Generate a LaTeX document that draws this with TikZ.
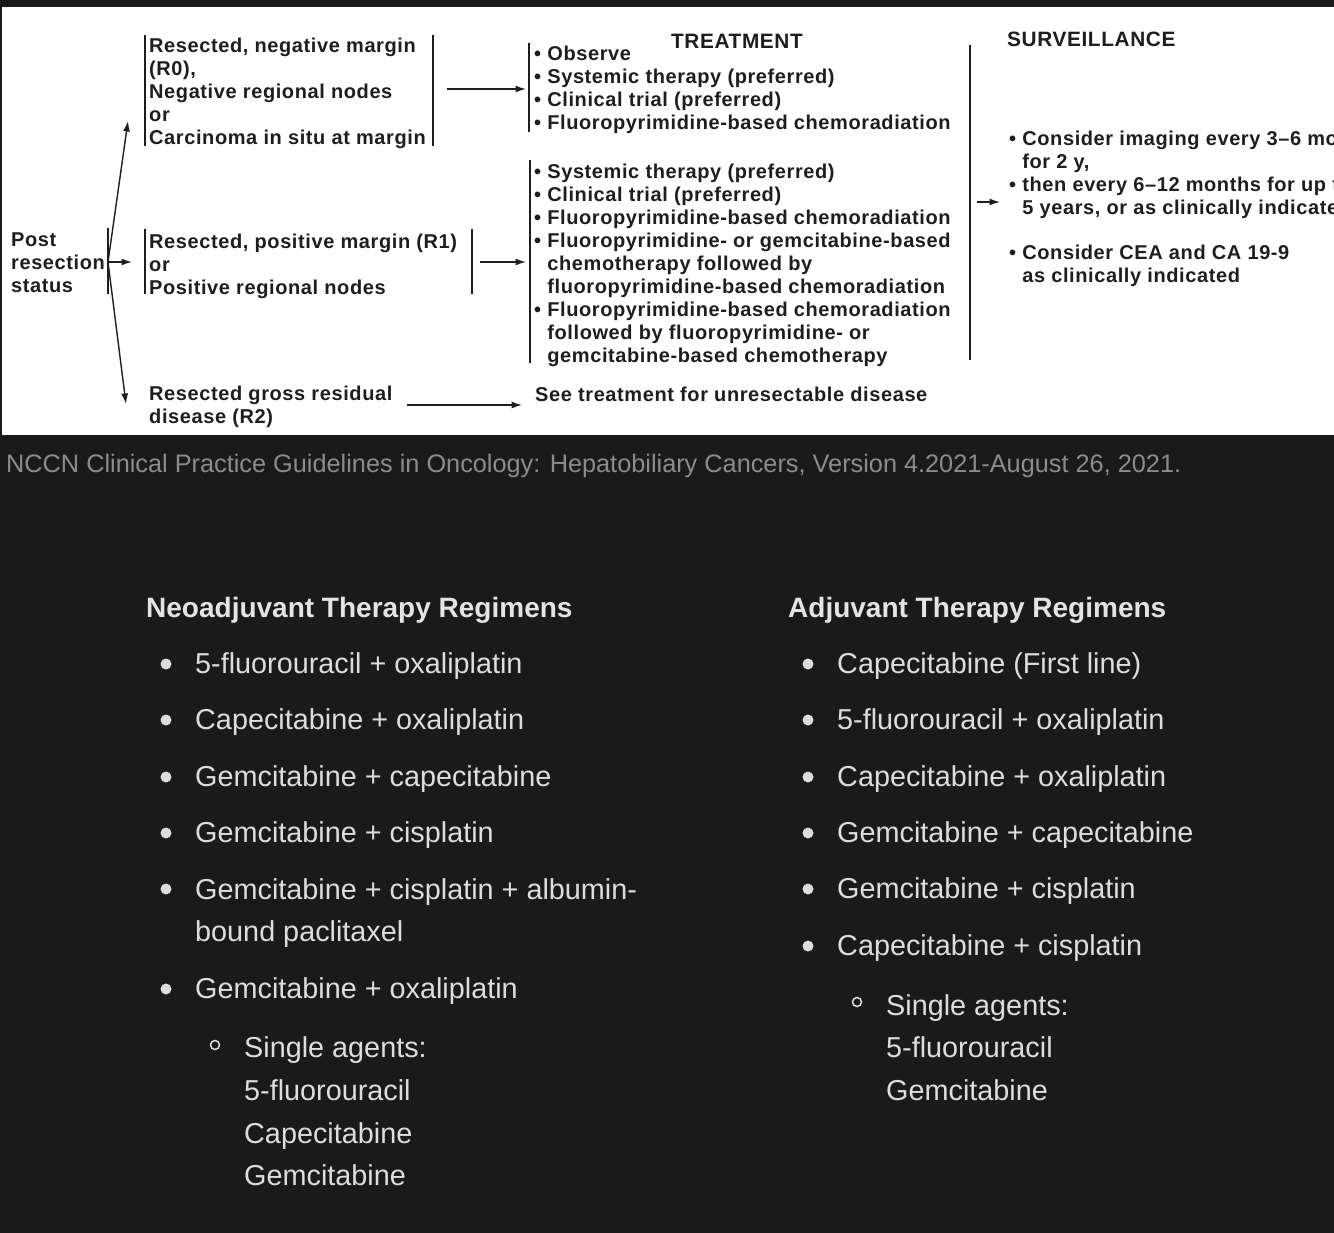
\documentclass[tikz,border=0pt]{standalone}
\usepackage{fontspec}
\setmainfont{Liberation Sans}
\newfontfamily\topfont[LetterSpace=3.0]{Liberation Sans}
\usetikzlibrary{arrows.meta}
\definecolor{bg}{HTML}{1A1A1A}
\definecolor{ink}{HTML}{1E1E1E}
\definecolor{lite}{HTML}{DDDDDD}
\definecolor{head}{HTML}{E4E4E4}
\definecolor{capt}{HTML}{8C8C8C}
\begin{document}
\begin{tikzpicture}[x=1pt,y=-1pt,
  tt/.style={font=\topfont\bfseries\fontsize{20}{23}\selectfont, text=ink, inner sep=0pt, align=left, anchor=west},
  tth/.style={font=\topfont\bfseries\fontsize{20.8}{23}\selectfont, text=ink, inner sep=0pt},
  bar/.style={draw=ink, line width=1.6pt},
  arr/.style={draw=ink, line width=1.4pt, -{Latex[length=10.5pt,width=7pt]}},
  body/.style={font=\fontsize{28.8}{42.7}\selectfont, text=lite, inner sep=0pt, align=left, anchor=west},
  hd/.style={font=\bfseries\fontsize{28}{34}\selectfont, text=head, inner sep=0pt, anchor=west},
  dot/.style={fill=lite},
  ring/.style={draw=lite, line width=1.5pt},
]
\useasboundingbox (0,0) rectangle (1334,1233);
\fill[bg] (0,0) rectangle (1334,1233);
\fill[white] (2,7) rectangle (1334,435);
\begin{scope}
\clip (2,7) rectangle (1334,435);
% left column
\node[tt] (post) at (11,262.5) {Post\\resection\\status};
\node[tt] (r0) at (149,93) {Resected, negative margin\\(R0),\\Negative regional nodes\\or\\Carcinoma in situ at margin};
\node[tt] (r1) at (149,266) {Resected, positive margin (R1)\\or\\Positive regional nodes};
\node[tt] (r2) at (149,406.5) {Resected gross residual\\disease (R2)};
% treatment
\node[tth, anchor=center] (treat) at (737,41) {TREATMENT};
\node[tt] (tx1) at (534,90) {• Observe\\• Systemic therapy (preferred)\\• Clinical trial (preferred)\\• Fluoropyrimidine-based chemoradiation};
\node[tt] (tx2) at (534,265.5) {• Systemic therapy (preferred)\\
• Clinical trial (preferred)\\
• Fluoropyrimidine-based chemoradiation\\
• Fluoropyrimidine- or gemcitabine-based\\
\hphantom{• }chemotherapy followed by\\
\hphantom{• }fluoropyrimidine-based chemoradiation\\
• Fluoropyrimidine-based chemoradiation\\
\hphantom{• }followed by fluoropyrimidine- or\\
\hphantom{• }gemcitabine-based chemotherapy};
\node[tt] (tx3) at (535,394) {See treatment for unresectable disease};
% surveillance
\node[tth, anchor=west] (surv) at (1007,39) {SURVEILLANCE};
\node[tt] (sv1) at (1009,175) {• Consider imaging every 3–6 months\\\hphantom{• }for 2 y,\\• then every 6–12 months for up to\\\hphantom{• }5 years, or as clinically indicated};
\node[tt] (sv2) at (1009,266) {• Consider CEA and CA 19-9\\\hphantom{• }as clinically indicated};
% bars
\coordinate (pb) at (108,262);
\draw[bar] (108,228) -- (108,294);
\draw[bar] (145,35) -- (145,146);
\draw[bar] (433,35) -- (433,146);
\draw[bar] (145,229) -- (145,294);
\draw[bar] (472,229) -- (472,294);
\draw[bar] (529,43) -- (529,132);
\draw[bar] (530,160) -- (530,363);
\draw[bar] (970,45) -- (970,360);
% arrows
\coordinate (upend) at (128,121);
\coordinate (midend) at (132,262);
\coordinate (dnend) at (126,404);
\draw[arr] (pb) -- (upend);
\draw[arr] (pb) -- (midend);
\draw[arr] (pb) -- (dnend);
\coordinate (a0s) at (447,89);  \coordinate (a0e) at (526,89);
\coordinate (a1s) at (480,262); \coordinate (a1e) at (526,262);
\coordinate (a2s) at (407,405); \coordinate (a2e) at (522,405);
\coordinate (a3s) at (977,202); \coordinate (a3e) at (1000,202);
\draw[arr] (a0s) -- (a0e);
\draw[arr] (a1s) -- (a1e);
\draw[arr] (a2s) -- (a2e);
\draw[arr] (a3s) -- (a3e);
\end{scope}
% caption
\node[font=\fontsize{25.3}{30}\selectfont, text=capt, inner sep=0pt, anchor=west] (cap) at (6,466) {NCCN Clinical Practice Guidelines in Oncology: Hepatobiliary Cancers, Version 4.2021-August 26, 2021.};
% left list
\node[hd] (neo) at (146,610) {Neoadjuvant Therapy Regimens};
\foreach \y/\t [count=\i] in {664/5-fluorouracil + oxaliplatin, 720/Capecitabine + oxaliplatin, 777/Gemcitabine + capecitabine, 833/Gemcitabine + cisplatin, 989/Gemcitabine + oxaliplatin}{
  \fill[dot] (166,\y) circle[radius=5.5pt];
  \node[body] (n\i) at (195,\y+2.5) {\t};
}
\fill[dot] (166,889) circle[radius=5.5pt];
\node[body] (n6) at (195,913) {Gemcitabine + cisplatin + albumin-\\bound paclitaxel};
\draw[ring] (215,1045) circle[radius=4.5pt];
\node[body] (nsa) at (244,1111.5) {Single agents:\\5-fluorouracil\\Capecitabine\\Gemcitabine};
% right list
\node[hd] (adj) at (788,610) {Adjuvant Therapy Regimens};
\foreach \y/\t [count=\i] in {664/Capecitabine (First line), 720/5-fluorouracil + oxaliplatin, 777/Capecitabine + oxaliplatin, 833/Gemcitabine + capecitabine, 889/Gemcitabine + cisplatin, 946/Capecitabine + cisplatin}{
  \fill[dot] (808,\y) circle[radius=5.5pt];
  \node[body] (a\i) at (837,\y+2.5) {\t};
}
\draw[ring] (857,1002) circle[radius=4.5pt];
\node[body] (asa) at (886,1047.5) {Single agents:\\5-fluorouracil\\Gemcitabine};
\end{tikzpicture}
\end{document}
